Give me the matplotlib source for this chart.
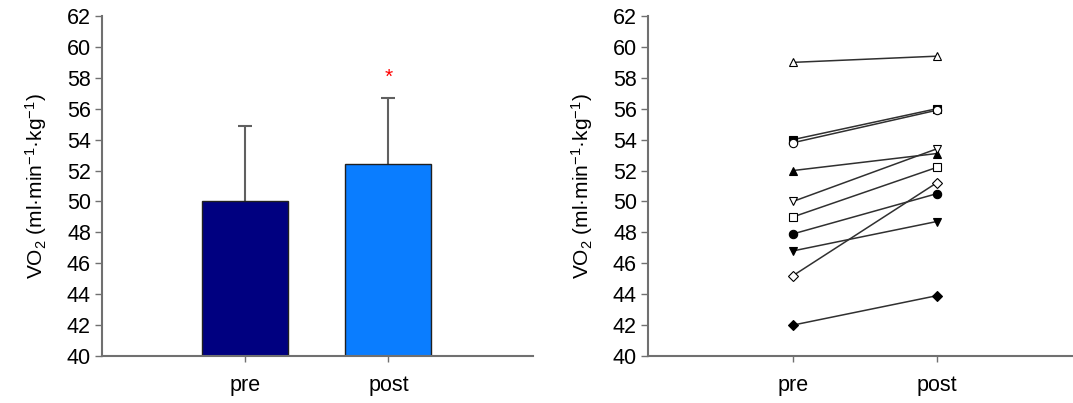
import matplotlib
matplotlib.use("Agg")
import matplotlib.pyplot as plt
import numpy as np

plt.rcParams['font.family'] = ['Liberation Sans', 'DejaVu Sans']
plt.rcParams['mathtext.fontset'] = 'custom'
plt.rcParams['mathtext.rm'] = 'Liberation Sans'
plt.rcParams['mathtext.it'] = 'Liberation Sans'

categories = ["pre", "post"]
bar_means = [50.0, 52.4]
bar_sd = [4.9, 4.3]
bar_colors = ["#000080", "#0A7DFF"]
significance_value = 58.0

# individual subjects
subj_pre = [59.0, 54.0, 53.8, 52.0, 50.0, 49.0, 47.9, 46.8, 45.2, 42.0]
subj_post = [59.4, 56.0, 55.9, 53.1, 53.4, 52.2, 50.5, 48.7, 51.2, 43.9]
subj_marker = ["^", "s", "o", "^", "v", "s", "o", "v", "D", "D"]
subj_filled = [False, True, False, True, False, False, True, True, False, True]

ylabel = "VO$_\\mathregular{2}$ (ml·min$^\\mathregular{-1}$·kg$^\\mathregular{-1}$)"
yticks = np.arange(40, 63, 2)

fig = plt.figure(figsize=(10.73, 4.03), dpi=100)
ax1 = fig.add_axes([102/1073, 1-356/403, (533-102)/1073, 340/403])
ax2 = fig.add_axes([648/1073, 1-356/403, (1073-648)/1073, 340/403])

spine_col = "#707070"
x = np.arange(len(categories))

ax1.bar(x, [m - 40 for m in bar_means], bottom=40, width=0.6, color=bar_colors,
        edgecolor="#202020", linewidth=1.0, zorder=2)
eb = ax1.errorbar(x, bar_means, yerr=[[0, 0], bar_sd], fmt="none", ecolor="#606060",
                  elinewidth=1.5, capsize=5, capthick=1.5, zorder=1)
eb[1][0].set_visible(False)
ax1.text(x[1], significance_value, "*", color="red", ha="center", va="center", fontsize=15)

for pre, post, mk, filled in zip(subj_pre, subj_post, subj_marker, subj_filled):
    ax2.plot(x, [pre, post], color="#303030", linewidth=1.1, marker=mk,
             markersize=6 if mk != "D" else 5,
             markerfacecolor="black" if filled else "white",
             markeredgecolor="black", markeredgewidth=0.8, clip_on=False, zorder=3)

for ax, xr in ((ax1, (-1.0, 2.01)), (ax2, (-1.01, 1.95))):
    ax.set_xlim(*xr)
    ax.set_ylim(40, 62)
    ax.set_yticks(yticks)
    ax.set_xticks(x)
    ax.set_xticklabels(categories)
    for s in ("top", "right"):
        ax.spines[s].set_visible(False)
    for s in ("left", "bottom"):
        ax.spines[s].set_color(spine_col)
        ax.spines[s].set_linewidth(1.5)
    ax.tick_params(axis="y", direction="out", length=5, width=1, color=spine_col,
                   labelsize=15.5, pad=3)
    ax.tick_params(axis="x", direction="out", length=4, width=1, color=spine_col,
                   labelsize=15.5, pad=10)
    ax.set_ylabel(ylabel, fontsize=15, labelpad=13)

fig.savefig("out.png", dpi=100)
